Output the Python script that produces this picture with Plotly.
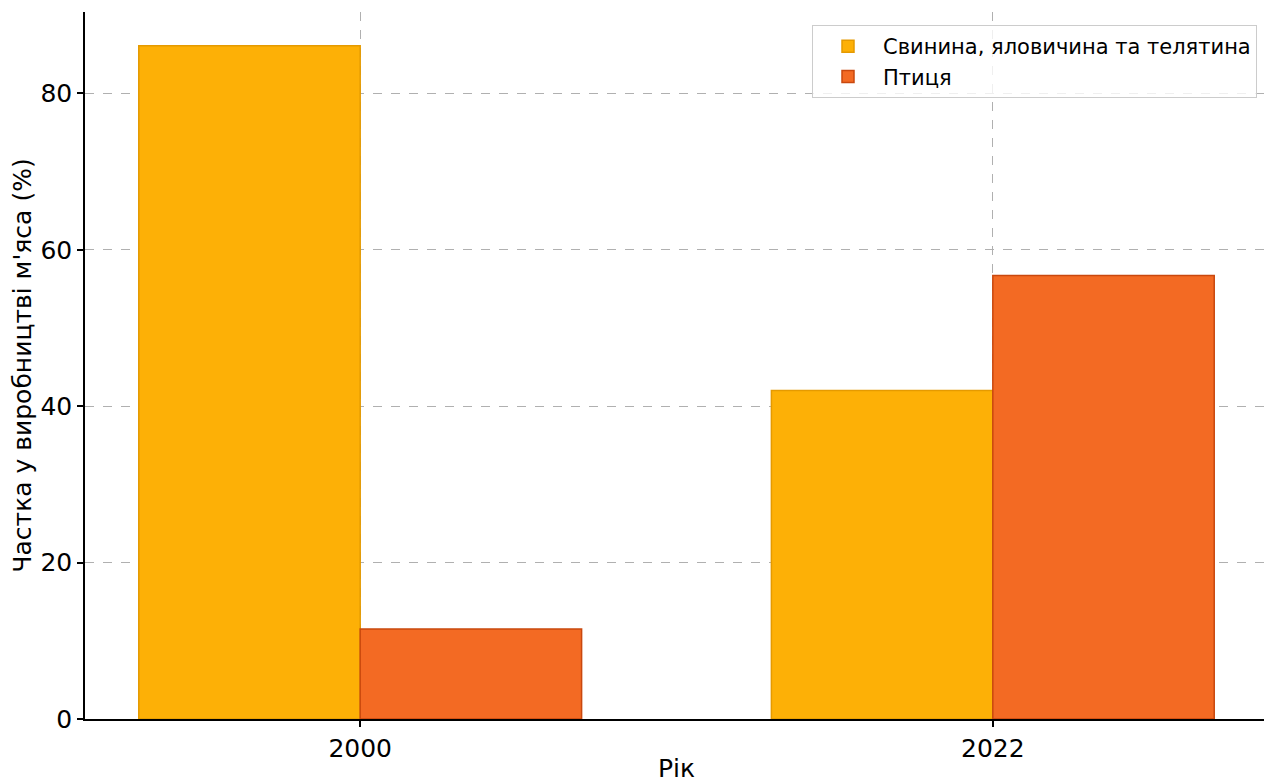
import plotly.graph_objects as go

years = ["2000", "2022"]
positions = [0, 1]
meat = [86.1, 42.0]
poultry = [11.5, 56.7]
series_names = ["Свинина, яловичина та телятина", "Птиця"]

fig = go.Figure()
fig.add_trace(go.Bar(x=positions, y=meat, name=series_names[0],
                     marker=dict(color="#FDB006", line=dict(color="#E59A00", width=1.5))))
fig.add_trace(go.Bar(x=positions, y=poultry, name=series_names[1],
                     marker=dict(color="#F36A23", line=dict(color="#C9480E", width=1.5))))

font = "DejaVu Sans, Liberation Sans, sans-serif"
fig.update_layout(
    width=1264, height=775,
    margin=dict(l=77, r=4, t=4, b=64),
    paper_bgcolor="white", plot_bgcolor="white",
    barmode="group", bargap=0.3, bargroupgap=0,
    font=dict(family=font, size=25, color="#000"),
    showlegend=True,
    legend=dict(x=0.9907, xanchor="right", y=0.9816, yanchor="top",
                bordercolor="#cccccc", borderwidth=1, bgcolor="rgba(255,255,255,0.8)",
                font=dict(size=21), tracegroupgap=2, itemwidth=60),
    xaxis=dict(range=[-0.435, 1.435], tickvals=positions, ticktext=years,
               showgrid=True, gridcolor="#b0b0b0", griddash="dash", gridwidth=1,
               showline=True, linecolor="#000", linewidth=1.5,
               ticks="outside", ticklen=6, tickwidth=1.5, tickcolor="#000",
               tickfont=dict(size=25),
               title=dict(text="Рік", font=dict(size=25), standoff=0),
               zeroline=False, layer="above traces", automargin=False),
    yaxis=dict(range=[0, 90.4], tickvals=[0, 20, 40, 60, 80],
               showgrid=True, gridcolor="#b0b0b0", griddash="dash", gridwidth=1,
               showline=True, linecolor="#000", linewidth=1.5,
               ticks="outside", ticklen=6, tickwidth=1.5, tickcolor="#000",
               tickfont=dict(size=25),
               title=dict(text="Частка у виробництві м'яса (%)", font=dict(size=25), standoff=6),
               zeroline=False, layer="above traces", automargin=False),
)

fig.write_html("out.html")
